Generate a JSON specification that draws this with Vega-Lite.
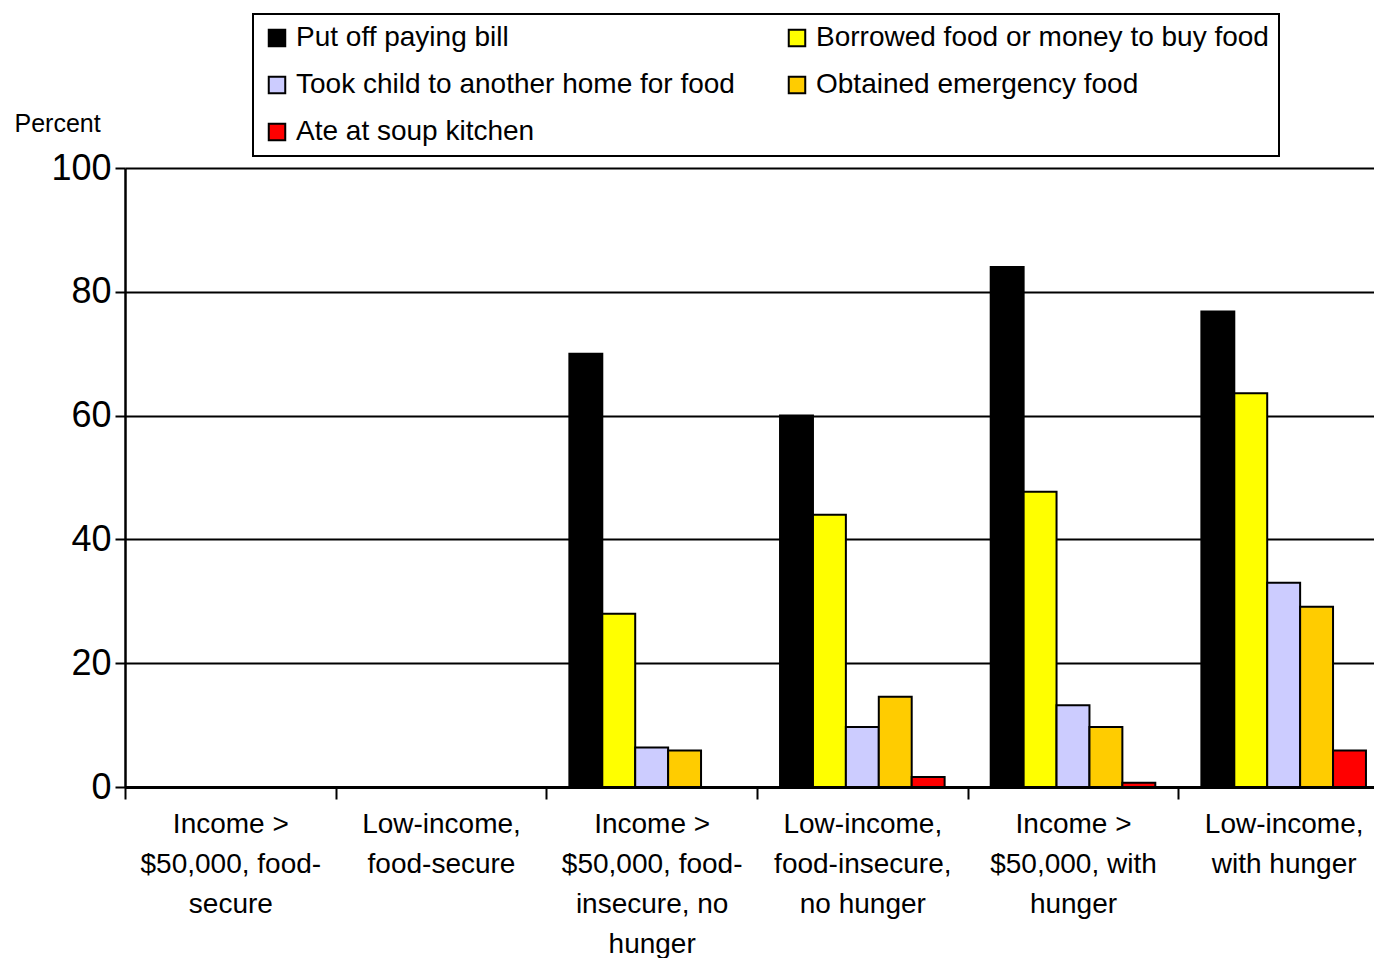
{
  "$schema": "https://vega.github.io/schema/vega-lite/v6.json",
  "autosize": {"type": "none"},
  "padding": {"left": 125, "top": 168, "right": 0, "bottom": 171},
  "width": 1249,
  "height": 619,
  "background": "white",
  "config": {"view": {"stroke": null}, "font": "Liberation Sans", "legend": {"strokeColor": "black", "strokeWidth": 2}},
  "data": {
    "values": [
      {"group": "Income >\n$50,000, food-\ninsecure, no\nhunger", "behavior": "Put off paying bill", "percent": 70},
      {"group": "Income >\n$50,000, food-\ninsecure, no\nhunger", "behavior": "Borrowed food or money to buy food", "percent": 28},
      {"group": "Income >\n$50,000, food-\ninsecure, no\nhunger", "behavior": "Took child to another home for food", "percent": 6.4},
      {"group": "Income >\n$50,000, food-\ninsecure, no\nhunger", "behavior": "Obtained emergency food", "percent": 5.9},
      {"group": "Low-income,\nfood-insecure,\nno hunger", "behavior": "Put off paying bill", "percent": 60},
      {"group": "Low-income,\nfood-insecure,\nno hunger", "behavior": "Borrowed food or money to buy food", "percent": 44},
      {"group": "Low-income,\nfood-insecure,\nno hunger", "behavior": "Took child to another home for food", "percent": 9.7},
      {"group": "Low-income,\nfood-insecure,\nno hunger", "behavior": "Obtained emergency food", "percent": 14.6},
      {"group": "Low-income,\nfood-insecure,\nno hunger", "behavior": "Ate at soup kitchen", "percent": 1.6},
      {"group": "Income >\n$50,000, with\nhunger", "behavior": "Put off paying bill", "percent": 84},
      {"group": "Income >\n$50,000, with\nhunger", "behavior": "Borrowed food or money to buy food", "percent": 47.7},
      {"group": "Income >\n$50,000, with\nhunger", "behavior": "Took child to another home for food", "percent": 13.2},
      {"group": "Income >\n$50,000, with\nhunger", "behavior": "Obtained emergency food", "percent": 9.7},
      {"group": "Income >\n$50,000, with\nhunger", "behavior": "Ate at soup kitchen", "percent": 0.7},
      {"group": "Low-income,\nwith hunger", "behavior": "Put off paying bill", "percent": 76.8},
      {"group": "Low-income,\nwith hunger", "behavior": "Borrowed food or money to buy food", "percent": 63.6},
      {"group": "Low-income,\nwith hunger", "behavior": "Took child to another home for food", "percent": 33},
      {"group": "Low-income,\nwith hunger", "behavior": "Obtained emergency food", "percent": 29.1},
      {"group": "Low-income,\nwith hunger", "behavior": "Ate at soup kitchen", "percent": 5.9}
    ]
  },
  "mark": {"type": "bar", "stroke": "black", "strokeWidth": 2},
  "encoding": {
    "x": {
      "field": "group",
      "type": "nominal",
      "sort": null,
      "scale": {
        "domain": [
          "Income >\n$50,000, food-\nsecure",
          "Low-income,\nfood-secure",
          "Income >\n$50,000, food-\ninsecure, no\nhunger",
          "Low-income,\nfood-insecure,\nno hunger",
          "Income >\n$50,000, with\nhunger",
          "Low-income,\nwith hunger"
        ],
        "range": [0, 1264],
        "paddingInner": 0,
        "paddingOuter": 0
      },
      "axis": {
        "title": null,
        "tickBand": "extent",
        "labelExpr": "datum.value ? split(datum.value, '\\n') : ''",
        "labelFontSize": 28,
        "labelLineHeight": 40,
        "labelColor": "black",
        "labelAngle": 0,
        "labelOverlap": false,
        "labelLimit": 400,
        "labelPadding": 11,
        "domainColor": "black",
        "domainWidth": 3,
        "tickColor": "black",
        "tickWidth": 2,
        "tickSize": 12,
        "grid": false
      }
    },
    "xOffset": {
      "field": "behavior",
      "type": "nominal",
      "sort": null,
      "scale": {
        "domain": ["Put off paying bill", "Borrowed food or money to buy food", "Took child to another home for food", "Obtained emergency food", "Ate at soup kitchen"],
        "paddingInner": 0,
        "paddingOuter": 0.7
      }
    },
    "y": {
      "field": "percent",
      "type": "quantitative",
      "scale": {"domain": [0, 100], "nice": false},
      "axis": {
        "title": "Percent",
        "titleAngle": 0,
        "titleX": -111,
        "titleY": -45,
        "titleAlign": "left",
        "titleBaseline": "middle",
        "titleFontSize": 25,
        "titleFontWeight": "normal",
        "titleColor": "black",
        "values": [0, 20, 40, 60, 80, 100],
        "labelFontSize": 36,
        "labelColor": "black",
        "labelPadding": 4,
        "gridColor": "black",
        "gridWidth": 2,
        "gridOpacity": 1,
        "domainColor": "black",
        "domainWidth": 2.5,
        "tickColor": "black",
        "tickWidth": 2,
        "tickSize": 10
      }
    },
    "color": {
      "field": "behavior",
      "type": "nominal",
      "sort": null,
      "scale": {
        "domain": ["Put off paying bill", "Borrowed food or money to buy food", "Took child to another home for food", "Obtained emergency food", "Ate at soup kitchen"],
        "range": ["#000000", "#FFFF00", "#CCCCFF", "#FFCC00", "#FF0000"]
      },
      "legend": {
        "title": null,
        "orient": "none",
        "direction": "horizontal",
        "legendX": 128,
        "legendY": -154,
        "columns": 2,
        "labelFontSize": 28,
        "labelColor": "black",
        "labelLimit": 600,
        "labelOffset": 5,
        "symbolType": "square",
        "symbolSize": 272,
        "symbolStrokeColor": "black",
        "symbolStrokeWidth": 2,
        "symbolOpacity": 1,
        "strokeColor": "black",
        "fillColor": "white",
        "padding": 10,
        "rowPadding": 19,
        "columnPadding": 48
      }
    }
  }
}
